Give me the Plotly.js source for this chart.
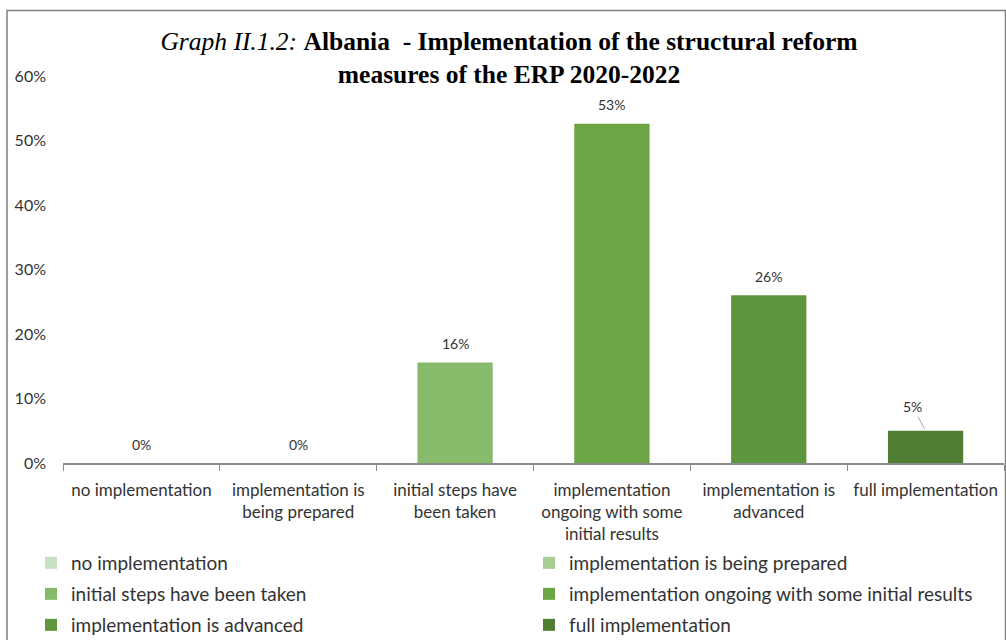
<!DOCTYPE html>
<html>
<head>
<meta charset="utf-8">
<script src="https://cdn.plot.ly/plotly-3.0.1.min.js"></script>
<style>html,body{margin:0;padding:0;background:#fff;}#chart{width:1006px;height:640px;}</style>
</head>
<body>
<div id="chart"></div>
<script>
const categories = ['no implementation', 'implementation is being prepared', 'initial steps have been taken',
  'implementation ongoing with some initial results', 'implementation is advanced', 'full implementation'];
const tickLabels = ['no implementation', 'implementation is<br>being prepared', 'initial steps have<br>been taken',
  'implementation<br>ongoing with some<br>initial results', 'implementation is<br>advanced', 'full implementation'];
const shares = [0, 0, 0.156, 0.526, 0.26, 0.05];
const dataLabels = ['0%', '0%', '16%', '53%', '26%', '5%'];
const colors = ['#c9dfc2', '#a9cc95', '#86bb6b', '#6ba544', '#5e963d', '#507f33'];

const FONT = 'Lato, "Open Sans", sans-serif';
const TXT = '#333333';

const L = 63, R = 2, T = 76, B = 177, W = 1006, H = 640;
const pw = W - L - R, ph = H - T - B;
const px2x = p => (p - L) / pw;
const py2y = p => (H - B - p) / ph;

const legendIds = ['legend', 'legend2', 'legend3', 'legend4', 'legend5', 'legend6'];
const legendColPx = [31, 529];
const legendRowPx = [563, 594, 625];

const traces = categories.map((c, i) => ({
  type: 'bar',
  x: [c],
  y: [shares[i]],
  name: c,
  marker: {color: colors[i]},
  legend: legendIds[i],
  hovertemplate: '%{x}: %{y:.0%}<extra></extra>'
}));

const annotations = categories.map((c, i) => {
  const a = {
    x: c, y: shares[i], xref: 'x', yref: 'y',
    text: dataLabels[i], showarrow: false, yshift: 19,
    font: {family: FONT, size: 14, color: TXT}
  };
  if (i === categories.length - 1) {
    Object.assign(a, {showarrow: true, arrowhead: 0, arrowwidth: 1, arrowcolor: '#a6a6a6',
      ax: -13, ay: -24, yshift: 0, standoff: 2});
  }
  return a;
});

const layout = {
  width: W, height: H,
  margin: {l: L, r: R, t: T, b: B, autoexpand: false},
  paper_bgcolor: '#fff', plot_bgcolor: '#fff',
  barmode: 'overlay', bargap: 0.52,
  font: {family: FONT, color: TXT},
  title: {
    text: '<i>Graph II.1.2:</i> <b>Albania  - Implementation of the structural reform</b><br><b>measures of the ERP 2020-2022</b>',
    font: {family: '"Liberation Serif", "Times New Roman", serif', size: 25.5, color: '#000'},
    xref: 'container', x: 509 / W, xanchor: 'center',
    yref: 'container', y: 1 - 50 / H, yanchor: 'top'
  },
  xaxis: {
    type: 'category', categoryorder: 'array', categoryarray: categories,
    tickvals: categories, ticktext: tickLabels,
    tickson: 'boundaries', ticks: 'outside', ticklen: 6, tickcolor: '#8c8c8c', tickwidth: 1,
    ticklabelstandoff: 11,
    showline: true, linecolor: '#8c8c8c', linewidth: 1.5,
    showgrid: false, zeroline: false,
    tickfont: {family: FONT, size: 17, color: TXT}, fixedrange: true
  },
  yaxis: {
    range: [0, 0.6], dtick: 0.1, tickformat: '.0%',
    showline: false, showgrid: false, zeroline: false, ticks: '',
    ticklabelstandoff: 16,
    tickfont: {family: FONT, size: 16, color: TXT}, fixedrange: true
  },
  annotations: annotations,
  shapes: [{
    type: 'rect', xref: 'paper', yref: 'paper',
    x0: px2x(7), x1: px2x(1005.5), y0: py2y(660), y1: py2y(10.5),
    line: {color: '#7f7f7f', width: 1.5}, fillcolor: 'rgba(0,0,0,0)', layer: 'below'
  }],
  showlegend: true
};

legendIds.forEach((id, i) => {
  layout[id] = {
    orientation: 'h', xref: 'paper', yref: 'paper',
    x: px2x(legendColPx[i % 2]), xanchor: 'left',
    y: py2y(legendRowPx[Math.floor(i / 2)]), yanchor: 'middle',
    font: {family: FONT, size: 19, color: TXT},
    bgcolor: 'rgba(0,0,0,0)', borderwidth: 0,
    itemclick: false, itemdoubleclick: false
  };
});

Plotly.newPlot('chart', traces, layout, {displayModeBar: false, staticPlot: true});
</script>
</body>
</html>
